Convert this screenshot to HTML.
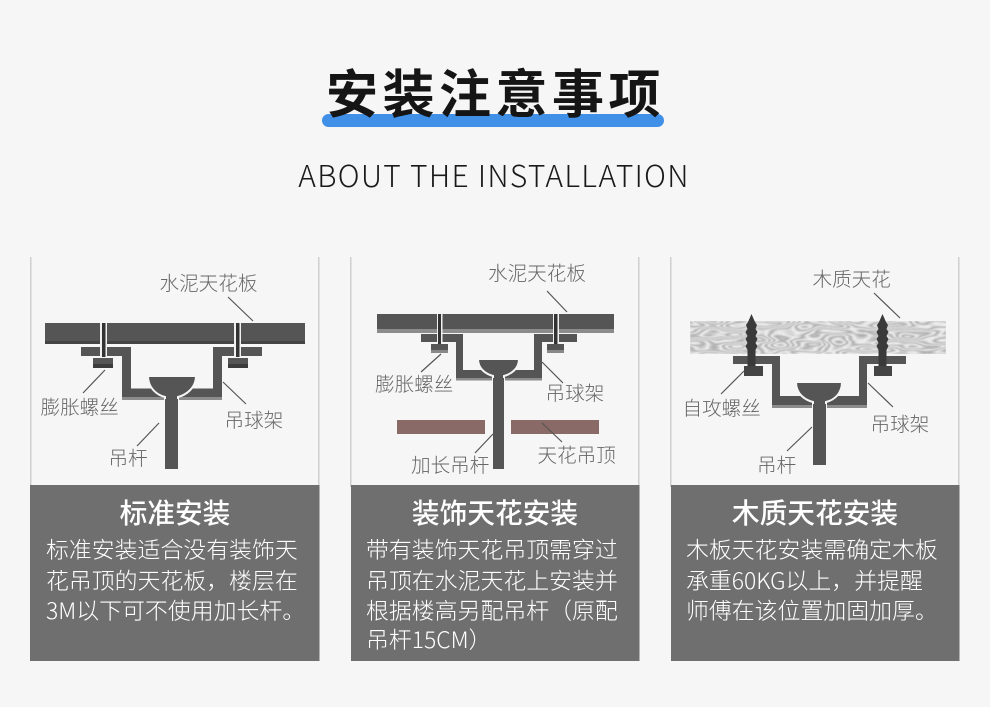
<!DOCTYPE html>
<html lang="zh"><head><meta charset="utf-8"><style>
html,body{margin:0;padding:0;background:#f6f6f6}
svg{display:block}
text{font-family:"Noto Sans CJK SC","Liberation Sans",sans-serif}
.l{font-size:19.6px;font-weight:300;fill:#666}
.h{font-size:27.7px;font-weight:500;fill:#fff;text-anchor:middle}
.b{font-size:22.9px;font-weight:300;fill:#fff}
.c{stroke:#555;stroke-width:1.2;fill:none}
.d{fill:#555}
.s{fill:#8c8c8c}
.o{fill:#555;stroke:#f6f6f6;stroke-width:2}
.g{fill:#f0f0f0}
.k{fill:#333}
</style></head><body>
<svg xmlns="http://www.w3.org/2000/svg" width="990" height="707" viewBox="0 0 990 707">
<defs>
<filter id="w" x="0" y="0" width="100%" height="100%" color-interpolation-filters="sRGB">
<feTurbulence type="fractalNoise" baseFrequency="0.022 0.085" numOctaves="2" seed="11"/>
<feColorMatrix type="matrix" values="1 0 0 0 0  1 0 0 0 0  1 0 0 0 0  0 0 0 0 1"/>
<feComponentTransfer>
<feFuncR type="table" tableValues=".9 .7 .95 .7 .95 .68 .95 .68 .95 .68 .95 .68 .95 .68 .95 .7 .95 .7 .95 .7 .95"/>
<feFuncG type="table" tableValues=".9 .7 .95 .7 .95 .68 .95 .68 .95 .68 .95 .68 .95 .68 .95 .7 .95 .7 .95 .7 .95"/>
<feFuncB type="table" tableValues=".9 .7 .95 .7 .95 .68 .95 .68 .95 .68 .95 .68 .95 .68 .95 .7 .95 .7 .95 .7 .95"/>
</feComponentTransfer>
<feGaussianBlur stdDeviation="0.5"/>
</filter>
</defs>
<rect width="990" height="707" fill="#f6f6f6"/>
<rect x="322" y="114" width="342" height="13" rx="6.5" fill="#4190e8"/>
<text x="495.500" y="113" text-anchor="middle" font-size="52" font-weight="700" letter-spacing="4.5" fill="#151515">安装注意事项</text>
<text x="494" y="187" text-anchor="middle" font-size="30" font-weight="300" letter-spacing="1.3" fill="#1a1a1a">ABOUT THE INSTALLATION</text>

<!-- panel frames -->
<g fill="#cfcfcf">
<rect x="30" y="257" width="1.500" height="230"/><rect x="318" y="257" width="1.500" height="230"/>
<rect x="350" y="257" width="1.500" height="230"/><rect x="638" y="257" width="1.500" height="230"/>
<rect x="670" y="257" width="1.500" height="230"/><rect x="958" y="257" width="1.500" height="230"/>
</g>
<g fill="#6f6f6f">
<rect x="30" y="485" width="289.500" height="176"/>
<rect x="351" y="485" width="288.500" height="176"/>
<rect x="671" y="485" width="288.500" height="176"/>
</g>

<!-- Panel 1 -->
<rect x="45" y="323" width="260" height="21" class="d"/><rect x="45" y="341" width="260" height="3" fill="#444"/>
<path class="s" d="M122 397H222V400H122Z"/>
<path class="d" d="M81 347H131V388.500H213V347H262V356H222V397H122V356H81Z"/>
<rect x="100" y="323" width="7" height="34" class="g"/><rect x="102" y="323" width="3.500" height="34" class="k"/>
<rect x="234" y="323" width="7" height="34" class="g"/><rect x="236" y="323" width="3.500" height="34" class="k"/>
<rect x="93" y="358" width="20" height="10" class="d"/><rect x="93" y="364" width="20" height="4" fill="#3c3c3c"/>
<rect x="228" y="358" width="20" height="10" class="d"/><rect x="228" y="364" width="20" height="4" fill="#3c3c3c"/>
<path class="o" d="M148 376H196C196 388 186 395 178 397V469H165V397C157 395 148 388 148 376Z"/>
<rect x="165" y="399" width="13" height="70" class="d"/>
<path class="c" d="M228 297L253 321M105 370L83 393M223 382L246 404M159 423L137 446"/>
<text class="l" x="159.500" y="290">水泥天花板</text>
<text class="l" x="40.500" y="414">膨胀螺丝</text>
<text class="l" x="224.500" y="427">吊球架</text>
<text class="l" x="108.500" y="465">吊杆</text>
<text class="h" x="175" y="523">标准安装</text>
<text class="b" x="46" y="558">标准安装适合没有装饰天</text>
<text class="b" x="46" y="589">花吊顶的天花板，楼层在</text>
<text class="b" x="46" y="619">3M以下可不使用加长杆。</text>

<!-- Panel 2 -->
<rect x="377" y="314" width="237" height="19" class="s"/><rect x="377" y="314" width="237" height="15" class="d"/>
<path class="s" d="M456 378H542V380.500H456Z"/>
<path class="d" d="M421 334H463V370H534V334H577V342H542V378H456V342H421Z"/>
<rect x="437" y="314" width="5.500" height="30" class="g"/><rect x="438" y="314" width="3" height="30" class="k"/>
<rect x="553" y="314" width="6" height="30" class="g"/><rect x="554" y="314" width="3.500" height="30" class="k"/>
<rect x="431" y="344" width="17" height="9" class="d"/><rect x="431" y="350" width="17" height="3" fill="#888"/>
<rect x="547" y="344" width="17" height="9" class="d"/><rect x="547" y="350" width="17" height="3" fill="#888"/>
<path class="o" d="M478 359H519C519 369 511 374 504 376V469H493V376C486 374 478 369 478 359Z"/>
<rect x="493" y="378" width="11" height="91" class="d"/>
<rect x="397" y="420" width="88" height="14" fill="#8a6a66"/><rect x="511" y="420" width="88" height="14" fill="#8a6a66"/>
<path class="c" d="M547 291L567 312M441 354L421 372M542 362L563 383M542 423L562 442M493 434L475 453"/>
<text class="l" x="488" y="280">水泥天花板</text>
<text class="l" x="375" y="391">膨胀螺丝</text>
<text class="l" x="545.500" y="400">吊球架</text>
<text class="l" x="411" y="472">加长吊杆</text>
<text class="l" x="537.500" y="462">天花吊顶</text>
<text class="h" x="495" y="523">装饰天花安装</text>
<text class="b" x="366" y="558">带有装饰天花吊顶需穿过</text>
<text class="b" x="366" y="589">吊顶在水泥天花上安装并</text>
<text class="b" x="366" y="619">根据楼高另配吊杆（原配</text>
<text class="b" x="366" y="648">吊杆15CM）</text>

<!-- Panel 3 -->
<rect x="690" y="321" width="256" height="33" fill="#e4e4e4" filter="url(#w)"/>
<path class="s" d="M772 405H867V408H772Z"/>
<path class="d" d="M733 356H780V396H859V356H906V364H867V405H772V364H733Z"/>
<rect x="744" y="366" width="19" height="10" fill="#444"/><rect x="874" y="366" width="18" height="10" fill="#444"/>
<g fill="#3a3a3a">
<path d="M751.500 314L755 322L757 325L755.500 329L757.500 332L755.500 336L757.500 339L755.500 343L757.500 346L755.500 350L755.500 366H747.500L747.500 350L745.500 346L747.500 343L745.500 339L747.500 336L745.500 332L747.500 329L746 325L748 322Z"/>
<path d="M882.500 314L886 322L888 325L886.500 329L888.500 332L886.500 336L888.500 339L886.500 343L888.500 346L886.500 350L886.500 366H878.500L878.500 350L876.500 346L878.500 343L876.500 339L878.500 336L876.500 332L878.500 329L877 325L879 322Z"/>
</g>
<path class="o" d="M796 382H842C842 394 834 400 826 402V465H813V402C805 400 796 394 796 382Z"/>
<rect x="813" y="404" width="13" height="61" class="d"/>
<path class="c" d="M874 293L900 318M744 371L721 394M868 383L893 407M812 427L787 451"/>
<text class="l" x="812.500" y="286">木质天花</text>
<text class="l" x="682.500" y="415">自攻螺丝</text>
<text class="l" x="870.500" y="431">吊球架</text>
<text class="l" x="757" y="472">吊杆</text>
<text class="h" x="815" y="523">木质天花安装</text>
<text class="b" x="686" y="558">木板天花安装需确定木板</text>
<text class="b" x="686" y="589">承重60KG以上，并提醒</text>
<text class="b" x="686" y="619">师傅在该位置加固加厚。</text>
</svg>
</body></html>
